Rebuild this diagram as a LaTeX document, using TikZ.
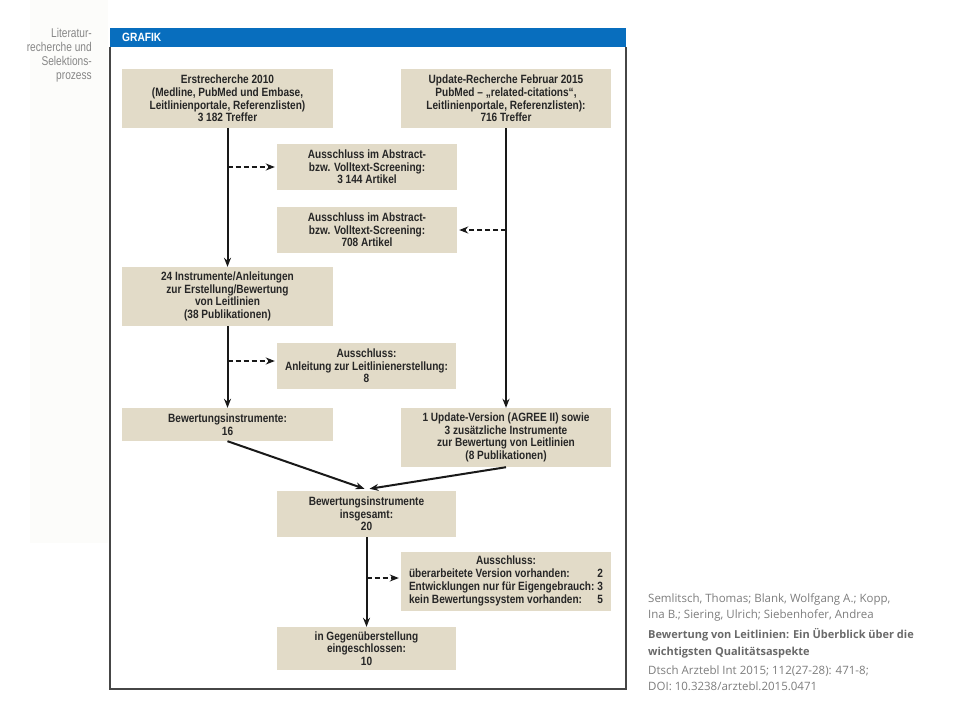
\documentclass[tikz,border=0pt]{standalone}
\usepackage{fontspec}
\usetikzlibrary{arrows.meta,calc}
\newfontfamily\boxfont[FakeStretch=0.84]{Liberation Sans}
\newfontfamily\hdrfont[FakeStretch=0.85]{Liberation Sans}
\newfontfamily\sidefont[FakeStretch=0.8]{Liberation Sans}
\newfontfamily\citefont{Open Sans}
\definecolor{boxfill}{RGB}{226,219,200}
\definecolor{hdrblue}{RGB}{8,110,190}
\definecolor{framegray}{RGB}{70,70,70}
\definecolor{sidegray}{RGB}{135,135,135}
\definecolor{citegray}{RGB}{125,125,125}
\definecolor{citebgray}{RGB}{105,105,105}
\definecolor{sidebg}{RGB}{252,252,250}
\tikzset{
  fbox/.style={fill=boxfill, inner sep=0pt, align=center,
    font=\boxfont\bfseries\fontsize{12}{12.7}\selectfont, text=black!85},
  arr/.style={line width=2pt, draw=black!90, -{Stealth[length=9pt,width=7pt]}},
  dasharr/.style={line width=2pt, draw=black!90, dash pattern=on 5pt off 3pt, -{Stealth[length=9pt,width=7pt]}},
  sidetxt/.style={font=\sidefont\fontsize{12.7}{14}\selectfont, text=sidegray, anchor=base east, inner sep=0pt},
  cite/.style={font=\citefont\fontsize{11.5}{14}\selectfont, text=citegray, anchor=base west, inner sep=0pt},
  citeb/.style={font=\citefont\bfseries\fontsize{11}{14}\selectfont, text=citebgray, anchor=base west, inner sep=0pt}
}
\begin{document}
\begin{tikzpicture}[x=1pt,y=-1pt]
\useasboundingbox (0,0) rectangle (960,720);
\fill[sidebg] (30,0) rectangle (108,543);
% sidebar
\node[sidetxt] (s1) at (92,37.5) {Literatur-};
\node[sidetxt] (s2) at (92,51.5) {recherche und};
\node[sidetxt] (s3) at (92,65.5) {Selektions-};
\node[sidetxt] (s4) at (92,79.5) {prozess};
% frame
\fill[white] (110,28) rectangle (626,689);
\fill[hdrblue] (110,28) rectangle (626,47);
\draw[framegray, line width=1.5pt] (110,47) -- (110,689) -- (626,689) -- (626,47);
\node[font=\hdrfont\bfseries\fontsize{12}{12}\selectfont, text=white, anchor=west, inner sep=0pt] (hdr) at (122,37.5) {GRAFIK};
% boxes
\node[fbox, minimum width=211, minimum height=59] (b1) at (227.5,98.5) {Erstrecherche 2010\\(Medline, PubMed und Embase,\\Leitlinienportale, Referenzlisten)\\3 182 Treffer};
\node[fbox, minimum width=210, minimum height=59] (b2) at (506,98.5) {Update-Recherche Februar 2015\\PubMed – „related-citations“,\\Leitlinienportale, Referenzlisten):\\716 Treffer};
\node[fbox, minimum width=180, minimum height=46] (b3) at (367,167) {Ausschluss im Abstract-\\bzw. Volltext-Screening:\\3 144 Artikel};
\node[fbox, minimum width=180, minimum height=46] (b4) at (367,230) {Ausschluss im Abstract-\\bzw. Volltext-Screening:\\708 Artikel};
\node[fbox, minimum width=211, minimum height=59] (b5) at (227.5,296.5) {24 Instrumente/Anleitungen\\zur Erstellung/Bewertung\\von Leitlinien\\(38 Publikationen)};
\node[fbox, minimum width=179, minimum height=46] (b6) at (366.5,366) {Ausschluss:\\Anleitung zur Leitlinienerstellung:\\8};
\node[fbox, minimum width=211, minimum height=33] (b7) at (227.5,424.5) {Bewertungsinstrumente:\\16};
\node[fbox, minimum width=210, minimum height=59] (b8) at (506,437.5) {1 Update-Version (AGREE II) sowie\\3 zusätzliche Instrumente\\zur Bewertung von Leitlinien\\(8 Publikationen)};
\node[fbox, minimum width=179, minimum height=46] (b9) at (366.5,514) {Bewertungsinstrumente\\insgesamt:\\20};
\node[fbox, minimum width=210, minimum height=59] (b10) at (506,581.5) {%
\setlength{\tabcolsep}{0pt}\renewcommand{\arraystretch}{1}%
\begin{tabular}{@{}l@{\hspace{3pt}}r@{}}
\multicolumn{2}{c}{Ausschluss:}\\
überarbeitete Version vorhanden: & 2\\
Entwicklungen nur für Eigengebrauch: & 3\\
kein Bewertungssystem vorhanden: & 5
\end{tabular}};
\node[fbox, minimum width=179, minimum height=43] (b11) at (366.5,648.5) {in Gegenüberstellung\\eingeschlossen:\\10};
% connectors
\draw[arr] (b1.south) -- (b5.north);
\draw[dasharr] (b3.west -| b1.south) -- ($(b3.west)+(-2,0)$);
\draw[arr] (b2.south) -- (b8.north);
\draw[dasharr] (b4.east -| b2.south) -- ($(b4.east)+(2,0)$);
\draw[arr] (b5.south) -- (b7.north);
\draw[dasharr] ($(b6.west -| b5.south)+(0,-5)$) -- ($(b6.west)+(-2,-5)$);
\draw[arr] (b7.south) -- ($(b9.north)+(-2,-2)$);
\draw[arr] (b8.south) -- ($(b9.north)+(3,-2)$);
\draw[arr] (b9.south) -- (b11.north);
\draw[dasharr] ($(b10.west -| b9.south)+(0,-3.5)$) -- ($(b10.west)+(-2,-3.5)$);
% citation
\node[cite] (c1) at (648,602) {Semlitsch, Thomas; Blank, Wolfgang A.; Kopp,};
\node[cite] (c2) at (648,618) {Ina B.; Siering, Ulrich; Siebenhofer, Andrea};
\node[citeb] (c3) at (648,638) {Bewertung von Leitlinien: Ein Überblick über die};
\node[citeb] (c4) at (648,655) {wichtigsten Qualitätsaspekte};
\node[cite] (c5) at (648,674) {Dtsch Arztebl Int 2015; 112(27-28): 471-8;};
\node[cite] (c6) at (648,690) {DOI: 10.3238/arztebl.2015.0471};
\end{tikzpicture}
\end{document}
